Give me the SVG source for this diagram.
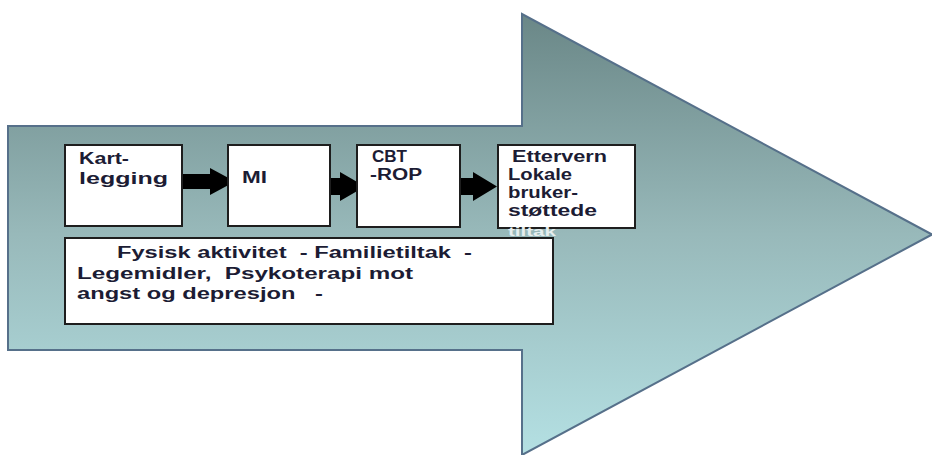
<svg xmlns="http://www.w3.org/2000/svg" width="932" height="455" viewBox="0 0 932 455">
<defs>
<linearGradient id="g" x1="0" y1="14" x2="0" y2="455" gradientUnits="userSpaceOnUse">
<stop offset="0" stop-color="#6a8787"/>
<stop offset="0.5" stop-color="#98b9ba"/>
<stop offset="1" stop-color="#b4e0e3"/>
</linearGradient>
<style>
.box{fill:#fff;stroke:#1e1e1e;stroke-width:2}
.t{font-family:"Liberation Sans",Arial,sans-serif;font-weight:bold;font-size:16px;fill:#1c1c34;white-space:pre}
.w{font-family:"Liberation Sans",Arial,sans-serif;font-weight:bold;font-size:13px;fill:#e6eeee}
.blk{fill:#000}
</style>
</defs>
<rect width="932" height="455" fill="#fff"/>
<g id="big-arrow">
<path d="M8,126 H522 V14 L932,234.5 L522,455 V350 H8 Z" fill="url(#g)" stroke="#56708a" stroke-width="2"/>
</g>
<g id="connectors">
<path class="blk" d="M183,174 H210 V168 L235,181.5 L210,195 V189 H183 Z"/>
<path class="blk" d="M312,178 H340 V172 L365,186.5 L340,201 V195 H312 Z"/>
<path class="blk" d="M446,178 H473 V172 L497,186.5 L473,201 V195 H446 Z"/>
</g>
<g id="kartlegging">
<rect class="box" x="65" y="145" width="117" height="81"/>
<text class="t" x="79" y="164" textLength="50" lengthAdjust="spacingAndGlyphs">Kart-</text>
<text class="t" x="79" y="184" textLength="89" lengthAdjust="spacingAndGlyphs">legging</text>
</g>
<g id="mi">
<rect class="box" x="228" y="145" width="102" height="81"/>
<text class="t" x="242" y="183" textLength="25" lengthAdjust="spacingAndGlyphs">MI</text>
</g>
<g id="cbt">
<rect class="box" x="357" y="145" width="103" height="82"/>
<text class="t" x="372" y="162" textLength="35" lengthAdjust="spacingAndGlyphs">CBT</text>
<text class="t" x="370" y="180" textLength="52" lengthAdjust="spacingAndGlyphs">-ROP</text>
</g>
<g id="ettervern">
<rect class="box" x="498" y="145" width="137" height="83"/>
<text class="t" x="512" y="162" textLength="95" lengthAdjust="spacingAndGlyphs">Ettervern</text>
<text class="t" x="508" y="180" textLength="64" lengthAdjust="spacingAndGlyphs">Lokale</text>
<text class="t" x="508" y="198" textLength="70" lengthAdjust="spacingAndGlyphs">bruker-</text>
<text class="t" x="508" y="216" textLength="89" lengthAdjust="spacingAndGlyphs">støttede</text>
<text class="w" x="508" y="236" textLength="48" lengthAdjust="spacingAndGlyphs">tiltak</text>
</g>
<g id="tiltak">
<rect class="box" x="65" y="238" width="488" height="86"/>
<text class="t" x="117" y="258" textLength="355" lengthAdjust="spacingAndGlyphs">Fysisk aktivitet  - Familietiltak  -</text>
<text class="t" x="77" y="279" textLength="336" lengthAdjust="spacingAndGlyphs">Legemidler,  Psykoterapi mot</text>
<text class="t" x="77" y="299" textLength="246" lengthAdjust="spacingAndGlyphs">angst og depresjon   -</text>
</g>
</svg>
